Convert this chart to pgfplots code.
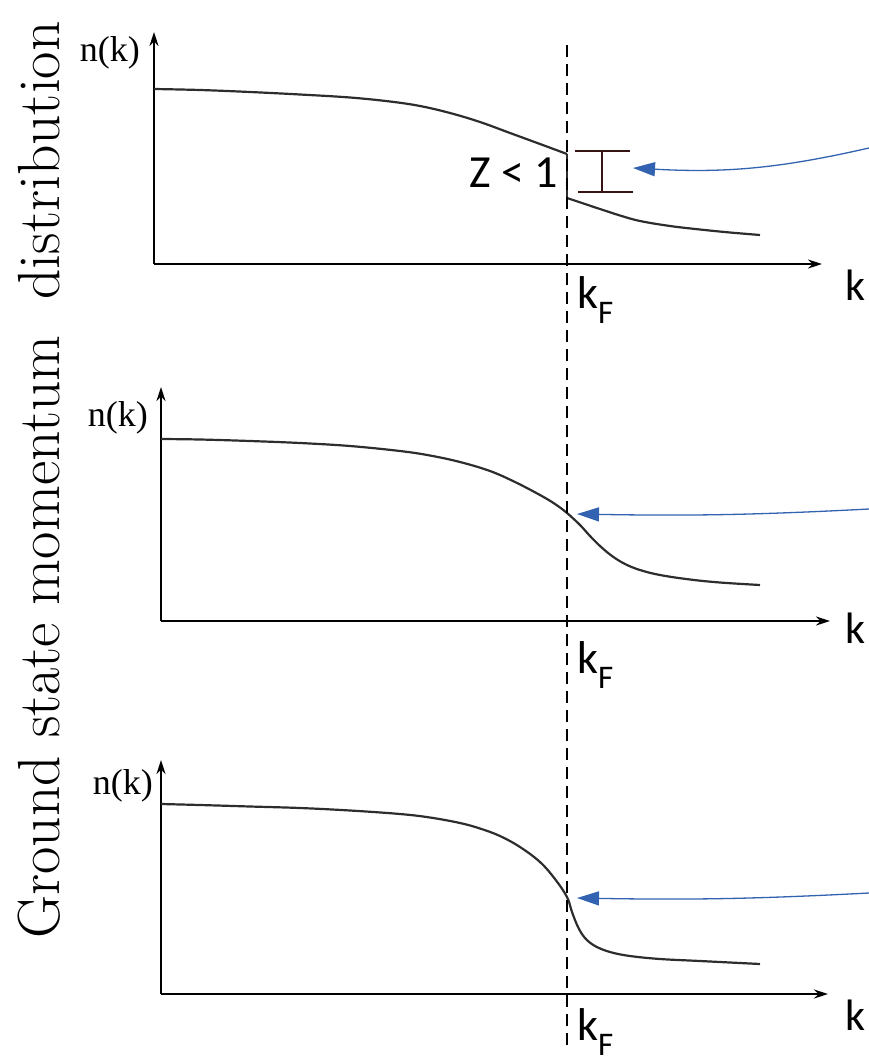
\documentclass[border=0pt]{standalone}
\usepackage{pgfplots}
\pgfplotsset{compat=1.18}
\usepackage{fontspec}
\newfontfamily\carlito{Carlito}
\newfontfamily\tnr{Liberation Serif}
\usetikzlibrary{arrows.meta}
\definecolor{curvec}{RGB}{45,45,45}
\definecolor{arrowblue}{RGB}{50,98,176}
\definecolor{brk}{RGB}{55,20,20}
\pgfplotsset{
  panel/.style={
    scale only axis, axis lines=left, enlargelimits=false, clip=false,
    xtick=\empty, ytick=\empty, xmin=0, ymin=0, anchor=south west,
    axis line style={line width=1.8bp, -{Stealth[length=14bp,width=9bp]}},
  },
}
\tikzset{
  curve/.style={line width=2.2bp, color=curvec, smooth, tension=0.6},
  blue arrow/.style={arrowblue, line width=1.3bp, -{Triangle[length=22bp,width=14bp]}},
  lblk/.style={inner sep=0pt, font=\carlito\fontsize{44bp}{48bp}\selectfont},
  lblnk/.style={inner sep=0pt, anchor=east, font=\tnr\fontsize{36bp}{40bp}\selectfont},
}
\newcommand{\kF}{{\carlito\fontsize{46bp}{50bp}\selectfont k\raisebox{-15bp}{\fontsize{33bp}{36bp}\selectfont F}}}
\begin{document}
\begin{tikzpicture}
\useasboundingbox (0,0) rectangle (869bp,-1064bp);
% ---------------- panel 1 ----------------
\begin{axis}[panel, at={(154bp,-264bp)}, width=668bp, height=232bp, xmax=668, ymax=232]
\addplot[curve, no marks] coordinates {(0,175) (46,174) (96,172) (146,169.5) (196,166.5) (236,162.5) (266,158) (296,151) (326,142) (356,131) (386,120) (413,110)};
\addplot[line width=2.2bp, color=curvec, no marks] coordinates {(413,110) (413,66)};
\addplot[curve, no marks] coordinates {(413,66) (431,60) (446,55) (466,48.5) (486,43) (516,38) (546,34.5) (576,31.5) (606,29)};
\draw[brk, line width=1.3bp] (axis cs:421,113) -- (axis cs:476,113);
\draw[brk, line width=1.3bp] (axis cs:424,72) -- (axis cs:479,72);
\draw[brk, line width=1.3bp] (axis cs:448,112) -- (axis cs:448,73);
\node[anchor=base east, inner sep=0pt, font=\carlito\fontsize{46bp}{50bp}\selectfont] at (axis cs:404,77) {Z < 1};
\draw[blue arrow] (axis cs:715,116) to[bend left=8] (axis cs:479,96);
\node[lblnk] at (axis cs:-14,211) {n(k)};
\node[lblk, anchor=base west] at (axis cs:691,-36) {k};
\node[anchor=base west, inner sep=0pt] at (axis cs:423,-44) {\kF};
\end{axis}
% ---------------- panel 2 ----------------
\begin{axis}[panel, at={(161bp,-621bp)}, width=669bp, height=234bp, xmax=669, ymax=234]
\addplot[curve, no marks] coordinates {(0,182) (39,181.5) (89,180) (139,178) (189,175) (239,170) (269,165.5) (299,159) (329,150) (354,139) (379,126) (394,117) (406,108) (419,96) (429,85) (439,75) (451,65) (464,57) (479,51) (499,46) (529,41.5) (559,38.5) (599,36)};
\draw[blue arrow] (axis cs:708,112) to[bend left=2] (axis cs:416,107);
\node[lblnk] at (axis cs:-13,203) {n(k)};
\node[lblk, anchor=base west] at (axis cs:684,-22) {k};
\node[anchor=base west, inner sep=0pt] at (axis cs:416,-52) {\kF};
\node[rotate=90, anchor=base, inner sep=0pt, font=\fontsize{59.5bp}{62bp}\selectfont] at (axis cs:-101,141) {Ground state momentum\ \ distribution};
\end{axis}
% ---------------- panel 3 ----------------
\begin{axis}[panel, at={(161bp,-994bp)}, width=667bp, height=234bp, xmax=667, ymax=234]
\addplot[curve, no marks] coordinates {(0,190) (39,189) (89,187.5) (139,186) (189,183.5) (239,180) (269,176.5) (299,171) (319,165.5) (339,158) (359,147) (379,132) (394,115) (406,97) (411,82) (417,67) (424,56) (434,48) (449,42) (469,38) (499,35) (539,33) (599,30)};
\draw[blue arrow] (axis cs:708,101) to[bend left=2] (axis cs:416,96);
\node[lblnk] at (axis cs:-8,208) {n(k)};
\node[lblk, anchor=base west] at (axis cs:684,-36) {k};
\node[anchor=base west, inner sep=0pt] at (axis cs:416,-46) {\kF};
\draw[line width=1.8bp, dash pattern=on 12bp off 7bp] (axis cs:406,-51) -- (axis cs:406,954);
\end{axis}
\end{tikzpicture}
\end{document}
